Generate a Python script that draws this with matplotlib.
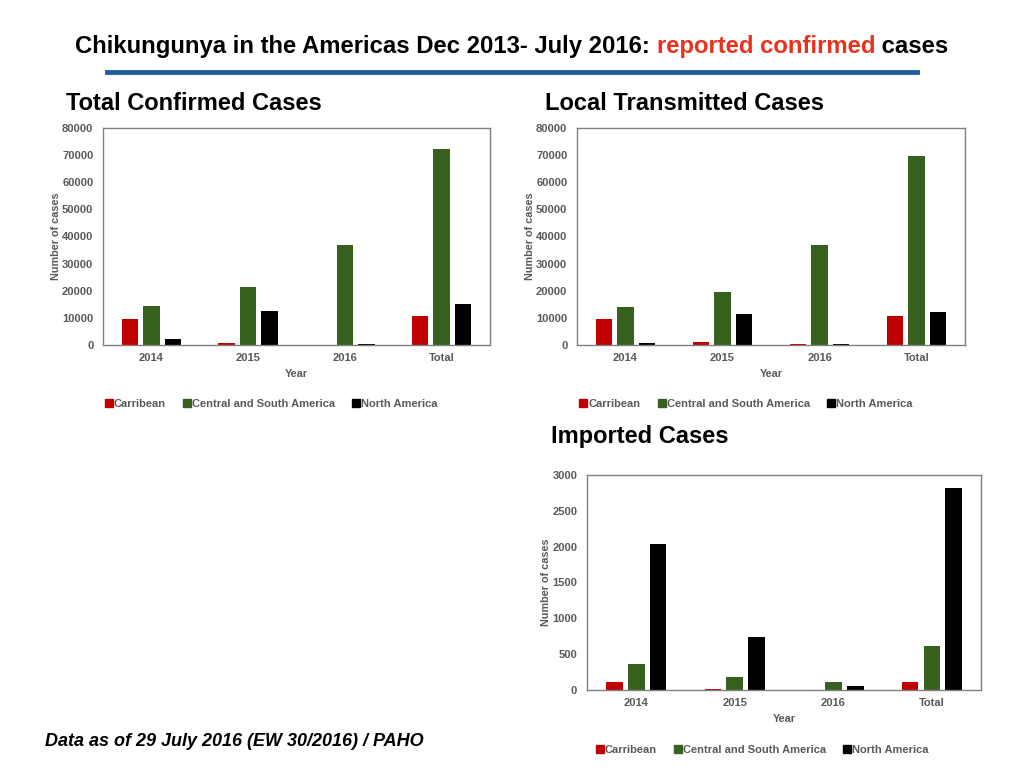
import numpy as np
import matplotlib
matplotlib.use("Agg")
import matplotlib.pyplot as plt
from matplotlib.lines import Line2D

plt.rcParams.update({"font.family": ["Liberation Sans", "DejaVu Sans"]})

years = ["2014", "2015", "2016", "Total"]
regions = ["Carribean", "Central and South America", "North America"]
colors = ["#c00000", "#38601f", "#000000"]

total_carib = [9500, 900, 150, 10800]
total_csa = [14200, 21500, 37000, 72300]
total_na = [2300, 12400, 300, 15200]

local_carib = [9600, 1100, 500, 10600]
local_csa = [14000, 19700, 36700, 69800]
local_na = [600, 11600, 500, 12200]

imp_carib = [110, 20, 0, 110]
imp_csa = [360, 180, 110, 620]
imp_na = [2040, 740, 60, 2820]

GRAY = "#595959"


def panel(rect, series, ymax, ystep, leg_x, leg_y):
    ax = fig.add_axes(rect)
    x = np.arange(len(years))
    w = 0.17; off = 0.222
    for i, (vals, col) in enumerate(zip(series, colors)):
        ax.bar(x + (i - 1) * off, vals, w, color=col, label=regions[i], zorder=2)
    ax.set_xlim(-0.5, 3.5); ax.set_ylim(0, ymax)
    ax.set_yticks(np.arange(0, ymax + 1, ystep))
    ax.set_xticks(x); ax.set_xticklabels(years)
    ax.tick_params(length=0, labelsize=8, labelcolor=GRAY, pad=6)
    ax.tick_params(axis="y", pad=7)
    for lab in ax.get_xticklabels() + ax.get_yticklabels():
        lab.set_fontweight("bold")
    for s in ax.spines.values():
        s.set_color("#808080"); s.set_linewidth(1.0)
    ax.set_xlabel("Year", fontsize=7.8, color=GRAY, weight="bold", labelpad=4)
    ax.set_ylabel("Number of cases", fontsize=7.8, color=GRAY, weight="bold", labelpad=1)
    handles = [Line2D([], [], marker="s", ls="none", color=c, markersize=5.5) for c in colors]
    ax.legend(handles, regions, loc="center", bbox_to_anchor=(leg_x, leg_y), ncol=3,
              frameon=False, handlelength=0.6, handletextpad=0.15, columnspacing=1.6,
              prop={"weight": "bold", "size": 8})
    for t in ax.get_legend().get_texts():
        t.set_color(GRAY)
    return ax


fig = plt.figure(figsize=(10.24, 7.68), dpi=100)

panel([0.1006, 0.5508, 0.378, 0.2826], [total_carib, total_csa, total_na], 80000, 10000, 0.436, -0.272)
panel([0.5635, 0.5508, 0.379, 0.2826], [local_carib, local_csa, local_na], 80000, 10000, 0.436, -0.272)
panel([0.5732, 0.1016, 0.385, 0.2799], [imp_carib, imp_csa, imp_na], 3000, 500, 0.445, -0.279)

# title in three coloured pieces, scaled to the reference width
title_parts = [("Chikungunya in the Americas Dec 2013- July 2016: ", "black"),
               ("reported confirmed", "#e8321e"), (" cases", "black")]
fig.canvas.draw()
r = fig.canvas.get_renderer()
size = 17
texts = [fig.text(0, 1 - 53 / 768, s, color=c, fontsize=size, weight="bold",
                  va="baseline")
         for s, c in title_parts]
total_w = sum(t.get_window_extent(r).width for t in texts)
size = size * 875 / total_w
for t in texts:
    t.set_fontsize(size)
widths = [t.get_window_extent(r).width for t in texts]
x0 = 512 - sum(widths) / 2
for t, wdt in zip(texts, widths):
    t.set_x(x0 / 1024)
    x0 += wdt

fig.add_artist(Line2D([107 / 1024, 917 / 1024], [1 - 72 / 768] * 2, color="#1f5f9e", lw=3.5))

for x, y, s in [(66, 103, "Total Confirmed Cases"), (545, 103, "Local Transmitted Cases"),
                (551, 436, "Imported Cases")]:
    fig.text(x / 1024, 1 - y / 768, s, fontsize=17, weight="bold", va="center")
fig.text(45 / 1024, 1 - 742 / 768, "Data as of 29 July 2016 (EW 30/2016) / PAHO",
         fontsize=13, weight="bold", style="italic", va="center")

fig.savefig("out.png", dpi=100)
